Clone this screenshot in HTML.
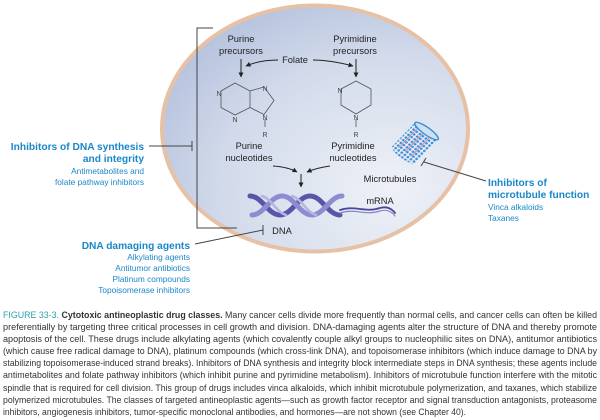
<!DOCTYPE html>
<html><head><meta charset="utf-8"><style>
html,body{margin:0;padding:0;background:#fff;}
svg{display:block;font-family:"Liberation Sans",sans-serif;}
</style></head><body>
<svg width="600" height="420" viewBox="0 0 600 420">
<defs>
<radialGradient id="cell" cx="0.75" cy="0.75" r="0.9">
<stop offset="0" stop-color="#eef1f7"/><stop offset="0.6" stop-color="#d3dbeb"/><stop offset="1" stop-color="#b2c0dc"/>
</radialGradient>
<marker id="ar" viewBox="0 0 10 10" refX="9" refY="5" markerWidth="5" markerHeight="5" orient="auto"><path d="M0,0 L10,5 L0,10 z" fill="#222"/></marker>
<pattern id="mt" width="4" height="4" patternUnits="userSpaceOnUse"><rect width="4" height="4" fill="#e8ecf6"/><circle cx="2" cy="2" r="1.4" fill="#3a8fd6"/></pattern>
</defs>
<ellipse cx="315" cy="128.5" rx="153" ry="123" fill="url(#cell)" stroke="#e6c1a6" stroke-width="4"/>
<!-- bracket -->
<path d="M213,28 H197 V228 H237" fill="none" stroke="#444" stroke-width="1"/>
<line x1="149" y1="146" x2="192" y2="146" stroke="#444"/>
<line x1="192" y1="141" x2="192" y2="151" stroke="#444"/>
<g font-size="10.2" font-weight="bold" fill="#1a87c9" text-anchor="end">
<text x="144" y="150">Inhibitors of DNA synthesis</text>
<text x="144" y="162">and integrity</text>
<text x="190" y="249">DNA damaging agents</text>
</g>
<g font-size="8.3" fill="#1a87c9" text-anchor="end">
<text x="144" y="174">Antimetabolites and</text>
<text x="144" y="185">folate pathway inhibitors</text>
<text x="190" y="260">Alkylating agents</text>
<text x="190" y="271">Antitumor antibiotics</text>
<text x="190" y="282">Platinum compounds</text>
<text x="190" y="293">Topoisomerase inhibitors</text>
</g>
<g font-size="10.2" font-weight="bold" fill="#1a87c9">
<text x="488" y="186">Inhibitors of</text>
<text x="488" y="198">microtubule function</text>
</g>
<g font-size="8.3" fill="#1a87c9">
<text x="488" y="210">Vinca alkaloids</text>
<text x="488" y="221">Taxanes</text>
</g>
<!-- inner labels -->
<g font-size="9.3" fill="#222" text-anchor="middle">
<text x="241" y="42">Purine</text><text x="241" y="54">precursors</text>
<text x="355" y="42">Pyrimidine</text><text x="355" y="54">precursors</text>
<text x="295" y="63">Folate</text>
<text x="249" y="149">Purine</text><text x="249" y="161">nucleotides</text>
<text x="353" y="149">Pyrimidine</text><text x="353" y="161">nucleotides</text>
<text x="390" y="182">Microtubules</text>
<text x="380" y="204">mRNA</text>
<text x="282" y="234">DNA</text>
</g>
<g stroke="#222" stroke-width="1" fill="none" marker-end="url(#ar)">
<path d="M278,60 Q260,60 246,66"/>
<path d="M313,60 Q330,60 353,66"/>
<line x1="241" y1="59" x2="241" y2="77"/>
<line x1="356" y1="59" x2="356" y2="77"/>
<path d="M273,166 Q288,167 297,172"/>
<path d="M330,166 Q316,168 307,172"/>
<line x1="301" y1="174" x2="301" y2="187"/>
</g>
<!-- rings -->
<g stroke="#555" stroke-width="0.8" fill="none">
<path d="M235,83 L250,91 L250,107.5 L235,115 L221,107.5 L221,91 Z"/>
<path d="M250,91 L264,87 L274,100.5 L264,114.5 L250,107.5"/>
<line x1="265" y1="119" x2="265" y2="127"/>
<path d="M356,81 L371,89 L371,105 L356,114 L341,105 L341,89 Z"/>
<line x1="356" y1="119" x2="356" y2="127"/>
</g>
<g font-size="7" fill="#444" text-anchor="middle">
<text x="219" y="96">N</text>
<text x="235" y="122">N</text>
<text x="265" y="91">N</text>
<text x="265" y="120">N</text>
<text x="265" y="137">R</text>
<text x="340" y="93">N</text>
<text x="356" y="120">N</text>
<text x="356" y="137">R</text>
</g>
<!-- DNA helix -->
<g fill="none" stroke-linecap="round">
<path d="M250,196 C262,196 268,215 280,215 C292,215 298,196 310,196 C322,196 328,215 340,215" stroke="#5a55a8" stroke-width="5"/>
<path d="M252,215 C264,215 270,196 282,196 C294,196 300,215 312,215 C324,215 330,196 342,196" stroke="#8f8bd0" stroke-width="5"/>
<path d="M262,196 C272,199 276,212 286,215" stroke="#b7b4e3" stroke-width="2.5"/>
<path d="M292,196 C302,199 306,212 316,215" stroke="#b7b4e3" stroke-width="2.5"/>
<path d="M340,210 C355,205 365,213 380,208 C390,205 395,213 395,213" stroke="#4b469c" stroke-width="1.8"/>
<path d="M340,213 C355,208 365,216 380,211 C390,208 395,216 395,216" stroke="#8a86c8" stroke-width="1.2"/>
</g>
<!-- microtubule -->
<g transform="translate(0,143) scale(1,0.867) translate(0,-165)">
<g transform="rotate(-50 415 165)">
<rect x="397" y="150" width="36" height="30" fill="url(#mt)"/>
<g stroke="#d2507a" stroke-width="0.8" opacity="0.8">
<line x1="397" y1="156" x2="433" y2="156"/><line x1="397" y1="164" x2="433" y2="164"/><line x1="397" y1="172" x2="433" y2="172"/>
</g>
<ellipse cx="433" cy="165" rx="4" ry="15" fill="#cfe0f3" stroke="#3a8fd6" stroke-width="1.5"/>
<ellipse cx="397" cy="165" rx="4" ry="15" fill="url(#mt)"/>
</g>
</g>
<line x1="424" y1="162" x2="486" y2="181" stroke="#444"/>
<line x1="421" y1="166" x2="426" y2="158" stroke="#444"/>
<line x1="195" y1="244" x2="263" y2="230" stroke="#444"/>
<line x1="263" y1="225" x2="263" y2="235" stroke="#444"/>
<!-- caption -->
<g font-size="9.3" fill="#333">
<text x="3" y="318" textLength="594" lengthAdjust="spacingAndGlyphs"><tspan fill="#2a9fa8">FIGURE 33-3. </tspan><tspan font-weight="bold">Cytotoxic antineoplastic drug classes.</tspan> Many cancer cells divide more frequently than normal cells, and cancer cells can often be killed</text>
<text x="3" y="330" textLength="594" lengthAdjust="spacingAndGlyphs">preferentially by targeting three critical processes in cell growth and division. DNA-damaging agents alter the structure of DNA and thereby promote</text>
<text x="3" y="342" textLength="594" lengthAdjust="spacingAndGlyphs">apoptosis of the cell. These drugs include alkylating agents (which covalently couple alkyl groups to nucleophilic sites on DNA), antitumor antibiotics</text>
<text x="3" y="354" textLength="594" lengthAdjust="spacingAndGlyphs">(which cause free radical damage to DNA), platinum compounds (which cross-link DNA), and topoisomerase inhibitors (which induce damage to DNA by</text>
<text x="3" y="366" textLength="594" lengthAdjust="spacingAndGlyphs">stabilizing topoisomerase-induced strand breaks). Inhibitors of DNA synthesis and integrity block intermediate steps in DNA synthesis; these agents include</text>
<text x="3" y="378" textLength="594" lengthAdjust="spacingAndGlyphs">antimetabolites and folate pathway inhibitors (which inhibit purine and pyrimidine metabolism). Inhibitors of microtubule function interfere with the mitotic</text>
<text x="3" y="391" textLength="594" lengthAdjust="spacingAndGlyphs">spindle that is required for cell division. This group of drugs includes vinca alkaloids, which inhibit microtubule polymerization, and taxanes, which stabilize</text>
<text x="3" y="403" textLength="594" lengthAdjust="spacingAndGlyphs">polymerized microtubules. The classes of targeted antineoplastic agents—such as growth factor receptor and signal transduction antagonists, proteasome</text>
<text x="3" y="415" textLength="463" lengthAdjust="spacingAndGlyphs">inhibitors, angiogenesis inhibitors, tumor-specific monoclonal antibodies, and hormones—are not shown (see Chapter 40).</text>
</g>
</svg>
</body></html>
